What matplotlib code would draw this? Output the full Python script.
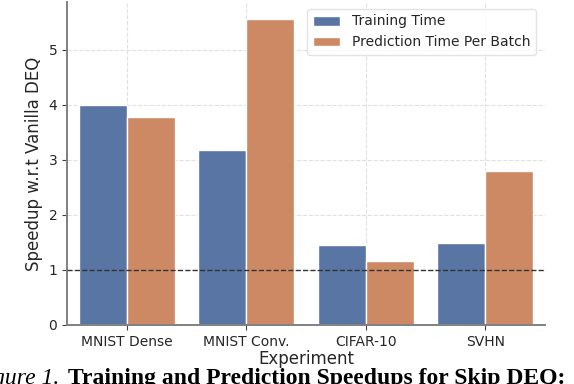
import numpy as np
import matplotlib
matplotlib.use("Agg")
import matplotlib.pyplot as plt

experiments = ["MNIST Dense", "MNIST Conv.", "CIFAR-10", "SVHN"]
training_speedup = [4.00, 3.18, 1.45, 1.49]
prediction_speedup = [3.78, 5.56, 1.16, 2.80]
series_names = ["Training Time", "Prediction Time Per Batch"]

blue = "#5875a4"
orange = "#cc8963"
text_col = "#262626"

fig = plt.figure(figsize=(5.74, 3.84), dpi=100)
ax = fig.add_axes([67 / 574, 1 - 325 / 384, (545 - 67) / 574, (325 - 2) / 384])

x = np.arange(len(experiments))
w = 0.4
ax.bar(x - w / 2, training_speedup, w, color=blue, edgecolor="white", linewidth=1, label=series_names[0], zorder=2)
ax.bar(x + w / 2, prediction_speedup, w, color=orange, edgecolor="white", linewidth=1, label=series_names[1], zorder=2)

# baseline: no speedup
ax.axhline(1, color="#333333", linestyle="--", linewidth=1, zorder=3)

ax.set_xlim(-0.5, 3.5)
ax.set_ylim(0, 5.87)
ax.set_xticks(x)
ax.set_xticklabels(experiments)
ax.set_yticks(range(6))
ax.grid(True, linestyle="--", color="#e0e0e0", linewidth=0.8, zorder=0)
ax.set_axisbelow(True)

for s in ["top", "right"]:
    ax.spines[s].set_visible(False)
for s in ["left", "bottom"]:
    ax.spines[s].set_color("#808080")
    ax.spines[s].set_linewidth(1.4)
ax.tick_params(colors=text_col, labelsize=10, length=3.5, color="#404040")

ax.set_xlabel("Experiment", fontsize=12, color=text_col, labelpad=1)
ax.set_ylabel("Speedup w.r.t Vanilla DEQ", fontsize=12, color=text_col, labelpad=4)

leg = ax.legend(loc="upper right", fontsize=10, frameon=True, bbox_to_anchor=(0.995, 1.0))
leg.get_frame().set_edgecolor("#dddddd")
for t in leg.get_texts():
    t.set_color(text_col)

# caption of the paper figure, cut off by the crop
fig.text(59 / 574, 0.001, "Figure 1.", fontsize=17, family="Liberation Serif", style="italic",
         ha="right", va="baseline")
fig.text(68 / 574, 0.001, "Training and Prediction Speedups for Skip DEQ:", fontsize=17,
         family="Liberation Serif", weight="bold", va="baseline")

fig.savefig("out.png", dpi=100)
